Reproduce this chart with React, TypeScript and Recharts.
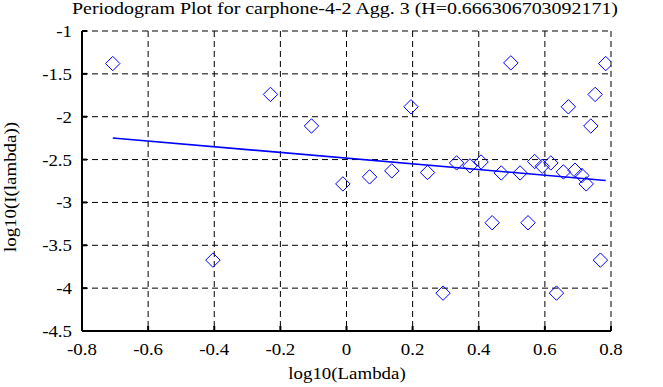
import React from "react";
import { ComposedChart, Scatter, XAxis, YAxis, CartesianGrid } from "recharts";

const pointX = [-0.707, -0.404, -0.23, -0.106, -0.011, 0.0698, 0.137, 0.195, 0.245, 0.292, 0.333, 0.3735, 0.407, 0.4405, 0.468, 0.497, 0.525, 0.549, 0.569, 0.592, 0.618, 0.635, 0.656, 0.671, 0.691, 0.712, 0.725, 0.739, 0.752, 0.768, 0.784];
const pointY = [-1.38, -3.673, -1.74, -2.108, -2.784, -2.702, -2.632, -1.884, -2.651, -4.058, -2.539, -2.574, -2.528, -3.237, -2.656, -1.372, -2.656, -3.237, -2.523, -2.578, -2.539, -4.058, -2.644, -1.884, -2.624, -2.686, -2.784, -2.108, -1.74, -3.673, -1.38];
const fitX = [-0.707, 0.784];
const fitY = [-2.248, -2.744];
const xTicks = [-0.8, -0.6, -0.4, -0.2, 0, 0.2, 0.4, 0.6, 0.8];
const yTicks = [-1, -1.5, -2, -2.5, -3, -3.5, -4, -4.5];
const title = "Periodogram Plot for carphone-4-2 Agg. 3 (H=0.666306703092171)";
const xLabel = "log10(Lambda)";
const yLabel = "log10(I(lambda))";

const points = pointX.map((x, i) => ({ x, y: pointY[i] }));
const fit = fitX.map((x, i) => ({ x, y: fitY[i] }));

const FONT = "'Liberation Serif', 'Times New Roman', serif";
const SX = 1.18;

const Diamond = (props: any) => {
  const { cx, cy } = props;
  if (cx == null || cy == null) return null;
  const r = 7.2;
  return (
    <path
      d={`M${cx},${cy - r} L${cx + r},${cy} L${cx},${cy + r} L${cx - r},${cy} Z`}
      fill="none"
      stroke="#0000ff"
      strokeWidth={1}
    />
  );
};

const NoShape = () => null;

const BottomTick = (props: any) => {
  const { x, y, payload } = props;
  return (
    <g>
      <line x1={x} x2={x} y1={y} y2={y - 5} stroke="#000" strokeWidth={2} />
      <text
        transform={`translate(${x},${y + 24}) scale(${SX},1)`}
        textAnchor="middle"
        fontFamily={FONT}
        fontSize={16}
        fill="#000"
      >
        {String(payload.value)}
      </text>
    </g>
  );
};

const TopTick = (props: any) => {
  const { x, y } = props;
  return <line x1={x} x2={x} y1={y} y2={y + 5} stroke="#000" strokeWidth={2} />;
};

const LeftTick = (props: any) => {
  const { x, y, payload } = props;
  return (
    <g>
      <line x1={x} x2={x + 5} y1={y} y2={y} stroke="#000" strokeWidth={2} />
      <text
        transform={`translate(${x - 10},${y + 6}) scale(${SX},1)`}
        textAnchor="end"
        fontFamily={FONT}
        fontSize={16}
        fill="#000"
      >
        {String(payload.value)}
      </text>
    </g>
  );
};

const RightTick = (props: any) => {
  const { x, y } = props;
  return <line x1={x} x2={x - 5} y1={y} y2={y} stroke="#000" strokeWidth={2} />;
};

export default function App() {
  return (
    <div style={{ position: "absolute", left: 0, top: 0, width: 663, height: 387, background: "#fff" }}>
      <ComposedChart width={663} height={387} margin={{ top: 31, right: 52, left: 0, bottom: 0 }}>
        <CartesianGrid xAxisId="b" yAxisId="l" stroke="#000" strokeWidth={1} strokeDasharray="6 4" />
        <XAxis
          xAxisId="b"
          type="number"
          dataKey="x"
          domain={[-0.8, 0.8]}
          ticks={xTicks}
          allowDataOverflow
          height={56}
          tickSize={0}
          tickMargin={0}
          tickLine={false}
          axisLine={{ stroke: "#000", strokeWidth: 2 }}
          tick={<BottomTick />}
          interval={0}
        />
        <XAxis
          xAxisId="t"
          orientation="top"
          type="number"
          dataKey="x"
          domain={[-0.8, 0.8]}
          ticks={xTicks}
          allowDataOverflow
          height={0}
          tickSize={0}
          tickMargin={0}
          tickLine={false}
          axisLine={{ stroke: "#000", strokeWidth: 2 }}
          tick={<TopTick />}
          interval={0}
        />
        <YAxis
          yAxisId="l"
          type="number"
          dataKey="y"
          domain={[-4.5, -1]}
          ticks={yTicks}
          allowDataOverflow
          width={82}
          tickSize={0}
          tickMargin={0}
          tickLine={false}
          axisLine={{ stroke: "#000", strokeWidth: 2 }}
          tick={<LeftTick />}
          interval={0}
        />
        <YAxis
          yAxisId="r"
          orientation="right"
          type="number"
          dataKey="y"
          domain={[-4.5, -1]}
          ticks={yTicks}
          allowDataOverflow
          width={0}
          tickSize={0}
          tickMargin={0}
          tickLine={false}
          axisLine={{ stroke: "#000", strokeWidth: 2 }}
          tick={<RightTick />}
          interval={0}
        />
        <Scatter
          xAxisId="b"
          yAxisId="l"
          data={points}
          dataKey="y"
          shape={<Diamond />}
          isAnimationActive={false}
        />
        <Scatter
          xAxisId="b"
          yAxisId="l"
          data={fit}
          dataKey="y"
          line={{ stroke: "#0000ff", strokeWidth: 1.6 }}
          shape={<NoShape />}
          isAnimationActive={false}
        />
      </ComposedChart>
      <svg
        width={663}
        height={387}
        style={{ position: "absolute", left: 0, top: 0, pointerEvents: "none" }}
      >
        <text
          x={345}
          y={14}
          textAnchor="middle"
          fontFamily={FONT}
          fontSize={17}
          textLength={546}
          lengthAdjust="spacingAndGlyphs"
          fill="#000"
        >
          {title}
        </text>
        <text
          transform={`translate(347,379) scale(${SX},1)`}
          textAnchor="middle"
          fontFamily={FONT}
          fontSize={16}
          fill="#000"
        >
          {xLabel}
        </text>
        <text
          transform={`translate(16,187) rotate(-90) scale(${SX},1)`}
          textAnchor="middle"
          fontFamily={FONT}
          fontSize={16}
          fill="#000"
        >
          {yLabel}
        </text>
      </svg>
    </div>
  );
}
